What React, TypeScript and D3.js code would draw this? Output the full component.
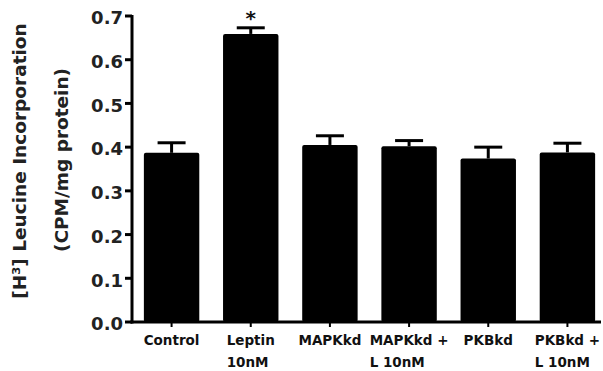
import React, { useEffect, useRef } from "react";
import * as d3 from "d3";

const categories = ["Control", "Leptin\n10nM", "MAPKkd", "MAPKkd +\nL 10nM", "PKBkd", "PKBkd +\nL 10nM"];
const means = [0.387, 0.659, 0.405, 0.402, 0.374, 0.388];
const errors = [0.023, 0.014, 0.021, 0.013, 0.026, 0.021];
const significant = [false, true, false, false, false, false];
const yTicks = [0, 0.1, 0.2, 0.3, 0.4, 0.5, 0.6, 0.7];
const yTitle1 = "[H³] Leucine Incorporation";
const yTitle2 = "(CPM/mg protein)";

const W = 603;
const H = 371;
const FONT = "'DejaVu Sans', sans-serif";

export default function App() {
  const ref = useRef<SVGSVGElement>(null);

  useEffect(() => {
    const svg = d3.select(ref.current);
    svg.selectAll("*").remove();

    const x = d3.scaleBand<string>().domain(categories).range([132, 607]).paddingInner(0.3).paddingOuter(0.15);
    const y = d3.scaleLinear().domain([0, 0.7]).range([322, 16]);
    const bw = x.bandwidth();

    // bars
    svg.append("g").selectAll("rect").data(categories).join("rect")
      .attr("x", (d) => x(d)!)
      .attr("y", (d, i) => y(means[i]))
      .attr("width", bw)
      .attr("height", (d, i) => y(0) - y(means[i]))
      .attr("rx", 2)
      .attr("fill", "#000");

    // error bars
    const eg = svg.append("g").attr("stroke", "#000").attr("stroke-width", 3);
    categories.forEach((c, i) => {
      const cx = x(c)! + bw / 2;
      eg.append("line").attr("x1", cx).attr("x2", cx).attr("y1", y(means[i])).attr("y2", y(means[i] + errors[i]));
      eg.append("line").attr("x1", cx - 14).attr("x2", cx + 14).attr("y1", y(means[i] + errors[i])).attr("y2", y(means[i] + errors[i]));
      if (significant[i]) {
        svg.append("text").attr("x", cx).attr("y", y(means[i] + errors[i]) - 3)
          .attr("text-anchor", "middle").attr("font-family", FONT).attr("font-weight", "bold")
          .attr("font-size", 20).attr("fill", "#111").text("*");
      }
    });

    // y axis
    svg.append("line").attr("x1", 132).attr("x2", 132).attr("y1", y(0.7) - 1).attr("y2", y(0) + 1.5)
      .attr("stroke", "#000").attr("stroke-width", 3);
    const yt = svg.append("g");
    yTicks.forEach((t) => {
      yt.append("line").attr("x1", 125).attr("x2", 132).attr("y1", y(t)).attr("y2", y(t))
        .attr("stroke", "#000").attr("stroke-width", 3);
      yt.append("text").attr("x", 123).attr("y", y(t) + 2).attr("dy", "0.35em")
        .attr("text-anchor", "end").attr("font-family", FONT).attr("font-weight", "bold")
        .attr("font-size", 18).attr("fill", "#222").text(t.toFixed(1));
    });

    // x axis
    svg.append("line").attr("x1", 130.5).attr("x2", 601).attr("y1", y(0)).attr("y2", y(0))
      .attr("stroke", "#000").attr("stroke-width", 3);
    const xg = svg.append("g");
    categories.forEach((c) => {
      const cx = x(c)! + bw / 2;
      xg.append("line").attr("x1", cx).attr("x2", cx).attr("y1", y(0)).attr("y2", y(0) + 5)
        .attr("stroke", "#000").attr("stroke-width", 2);
      const lines = c.split("\n");
      const t = xg.append("text").attr("font-family", FONT).attr("font-weight", "bold")
        .attr("font-size", 13.5).attr("fill", "#111").attr("text-anchor", "start");
      const spans = lines.map((l, k) =>
        t.append("tspan").attr("y", 345 + k * 22).text(l)
      );
      const widths = spans.map((s) => (s.node() as SVGTSpanElement).getComputedTextLength());
      const maxW = Math.max(...widths);
      spans.forEach((s) => s.attr("x", cx - maxW / 2));
    });

    // y title
    svg.append("text").attr("transform", `translate(26,161) rotate(-90)`)
      .attr("text-anchor", "middle").attr("font-family", FONT).attr("font-weight", "bold")
      .attr("font-size", 18.5).attr("fill", "#222").text(yTitle1);
    svg.append("text").attr("transform", `translate(68,160) rotate(-90)`)
      .attr("text-anchor", "middle").attr("font-family", FONT).attr("font-weight", "bold")
      .attr("font-size", 18.5).attr("fill", "#222").text(yTitle2);
  }, []);

  return (
    <svg ref={ref} width={W} height={H} style={{ position: "absolute", left: 0, top: 0, background: "#fff" }} />
  );
}
